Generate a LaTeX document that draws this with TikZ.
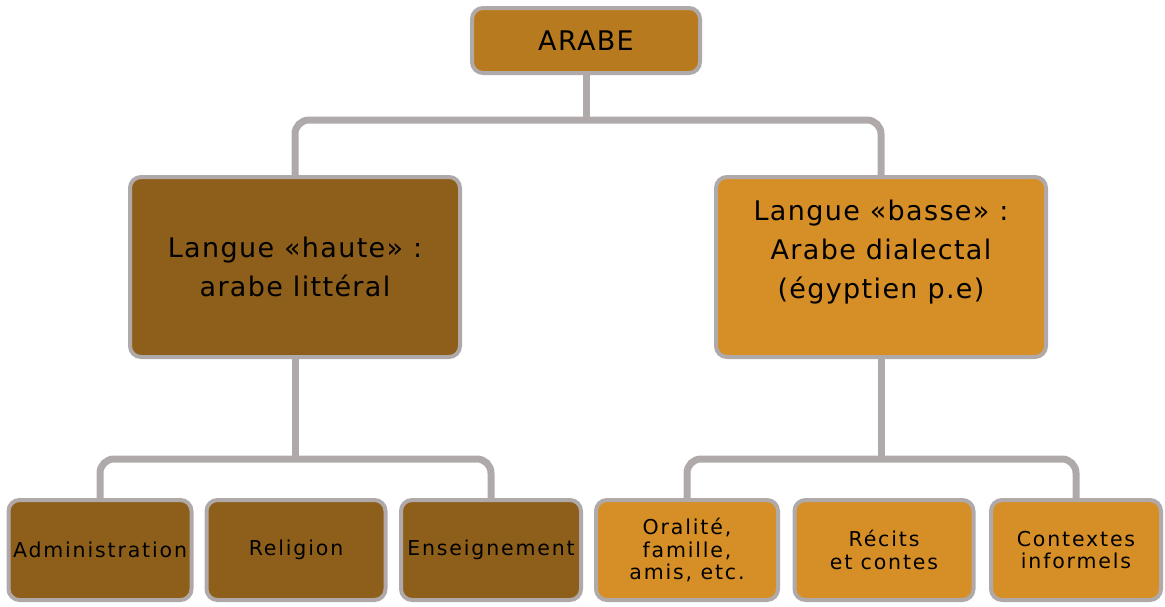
\documentclass[tikz,border=0pt]{standalone}
\usepackage{fontspec}
\setmainfont{DejaVu Sans}
\newfontfamily\midfont[LetterSpace=5]{DejaVu Sans}
\newfontfamily\lowfont[LetterSpace=9]{DejaVu Sans}
\begin{document}
\begin{tikzpicture}[x=1pt,y=-1pt,
  box/.style={rectangle,rounded corners=11pt,draw=linegray,line width=4pt,align=center,inner sep=0pt,text=black},
  top/.style={box,fill=topfill,minimum width=228pt,minimum height=65pt,font=\midfont\fontsize{27}{32}\selectfont},
  mid/.style={box,minimum width=330pt,minimum height=180pt,font=\midfont\fontsize{27}{39}\selectfont},
  low/.style={box,minimum height=100pt,font=\lowfont\fontsize{20.5}{22.5}\selectfont},
  conn/.style={draw=linegray,line width=7pt,rounded corners=14pt}]
\definecolor{linegray}{HTML}{AFAAA9}
\definecolor{topfill}{HTML}{B87A1E}
\definecolor{darkfill}{HTML}{8E5F1B}
\definecolor{lightfill}{HTML}{D68F27}
\useasboundingbox (0,0) rectangle (1165,606);
% nodes
\node[top] (arabe) at (586,40.5) {ARABE};
\node[mid,fill=darkfill] (haute) at (295,267) {Langue «haute» :\\arabe littéral};
\node[mid,fill=lightfill] (basse) at (881,267) {Langue «basse» :\\Arabe dialectal\\(égyptien p.e)\\[-4pt]};
\node[low,fill=darkfill,minimum width=183pt] (admin) at (100,550) {Administration};
\node[low,fill=darkfill,minimum width=179pt] (relig) at (296,550) {Religion};
\node[low,fill=darkfill,minimum width=180pt] (ens) at (491,550) {Enseignement};
\node[low,fill=lightfill,minimum width=182pt] (oral) at (687,550) {Oralité,\\famille,\\amis, etc.};
\node[low,fill=lightfill,minimum width=179pt] (recits) at (884,550) {Récits\\et contes};
\node[low,fill=lightfill,minimum width=170pt] (ctx) at (1076,550) {Contextes\\informels};
% connectors
\coordinate (b1) at (0,120);
\coordinate (b2) at (0,459);
\coordinate (b3) at (0,459);
\draw[conn] (haute.north) |- (b1 -| arabe.south) -| (basse.north);
\draw[conn] (arabe.south) -- (arabe.south |- b1);
\draw[conn] (admin.north) |- (b2 -| haute.south) -| (ens.north);
\draw[conn] (haute.south) -- (haute.south |- b2);
\draw[conn] (oral.north) |- (b3 -| basse.south) -| (ctx.north);
\draw[conn] (basse.south) -- (basse.south |- b3);
\end{tikzpicture}
\end{document}
